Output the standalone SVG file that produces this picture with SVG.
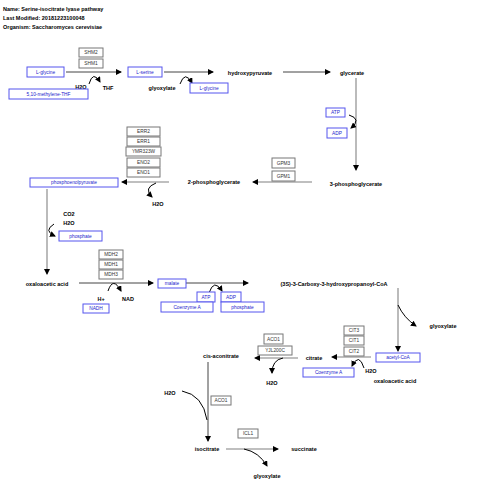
<svg xmlns="http://www.w3.org/2000/svg" width="480" height="496" viewBox="0 0 480 496">
<defs>
<marker id="ah" markerWidth="6" markerHeight="6" refX="5" refY="3" orient="auto" markerUnits="userSpaceOnUse">
<path d="M0,0 L6,3 L0,6 Z" fill="#000"/>
</marker>
<style>
.hdr{font-family:"Liberation Sans",Arial,sans-serif;font-size:5.5px;font-weight:bold;fill:#000}
.lbl{font-family:"Liberation Sans",Arial,sans-serif;font-size:5.5px;font-weight:bold;fill:#000;text-anchor:middle}
.gene rect{fill:#fff;stroke:#777;stroke-width:1}
.gene text{font-family:"Liberation Sans",Arial,sans-serif;font-size:4.8px;fill:#333;text-anchor:middle}
.met rect{fill:#fff;stroke:#5555ee;stroke-width:1}
.met text{font-family:"Liberation Sans",Arial,sans-serif;font-size:4.8px;fill:#2222cc;text-anchor:middle}
.dk{fill:none;stroke:#444;stroke-width:1}
.gr{fill:none;stroke:#aaa;stroke-width:1.6}
.cv{fill:none;stroke:#000;stroke-width:1}
</style>
</defs>
<rect width="480" height="496" fill="#fff"/>
<g id="header">
<text class="hdr" x="3" y="11">Name: Serine-isocitrate lyase pathway</text>
<text class="hdr" x="3" y="20">Last Modified: 20181223100048</text>
<text class="hdr" x="3" y="29">Organism: Saccharomyces cerevisiae</text>
</g>
<g id="connectors">
<path class="dk" d="M66,72 H121" marker-end="url(#ah)"/>
<path class="cv" d="M89,84 Q93,70 100,82" marker-end="url(#ah)"/>
<path class="dk" d="M164,72 H213" marker-end="url(#ah)"/>
<path class="cv" d="M180,84 Q185,70 192,83" marker-end="url(#ah)"/>
<path class="dk" d="M283,72 H330" marker-end="url(#ah)"/>
<path class="gr" d="M356,78 V170" marker-end="url(#ah)"/>
<path class="cv" d="M349,115 Q362,119 351,128" marker-end="url(#ah)"/>
<path class="gr" d="M312,182 H253" marker-end="url(#ah)"/>
<path class="gr" d="M169,182 H122" marker-end="url(#ah)"/>
<path class="cv" d="M156,183 Q143,188 152,197" marker-end="url(#ah)"/>
<path class="gr" d="M47,189 V274" marker-end="url(#ah)"/>
<path class="cv" d="M54,224 Q43,231 55,236" marker-end="url(#ah)"/>
<path class="dk" d="M79,283 H153" marker-end="url(#ah)"/>
<path class="cv" d="M108,291 Q113,276 121,291" marker-end="url(#ah)"/>
<path class="dk" d="M186,283 H248" marker-end="url(#ah)"/>
<path class="cv" d="M209,293 Q214,278 222,291" marker-end="url(#ah)"/>
<path class="gr" d="M398,288 V351" marker-end="url(#ah)"/>
<path class="cv" d="M398,305 Q404,318 416,326" marker-end="url(#ah)"/>
<path class="gr" d="M371,357 H332" marker-end="url(#ah)"/>
<path class="cv" d="M364,368 Q359,352 352,366" marker-end="url(#ah)"/>
<path class="gr" d="M298,358 H255" marker-end="url(#ah)"/>
<path class="cv" d="M283,358 Q272,360 272,373" marker-end="url(#ah)"/>
<path class="dk" d="M208,362 V441" marker-end="url(#ah)"/>
<path class="cv" d="M182,391 Q203,395 207,420"/>
<path class="gr" d="M226,449 H278" marker-end="url(#ah)"/>
<path class="cv" d="M244,449 Q259,452 267,466" marker-end="url(#ah)"/>
</g>
<g id="L-glycine-1" class="met"><rect x="27" y="67" width="37" height="10"/><text x="45.5" y="73.8">L-glycine</text></g>
<g id="SHM2" class="gene"><rect x="79" y="48" width="24" height="9"/><text x="91" y="54.3">SHM2</text></g>
<g id="SHM1" class="gene"><rect x="79" y="59" width="24" height="9"/><text x="91" y="65.3">SHM1</text></g>
<g id="H2O-1"><text class="lbl" x="81" y="89">H2O</text></g>
<g id="THF"><text class="lbl" x="108" y="90">THF</text></g>
<g id="methyleneTHF" class="met"><rect x="9" y="89" width="79" height="10"/><text x="48.5" y="95.8">5,10-methylene-THF</text></g>
<g id="L-serine" class="met"><rect x="128" y="67" width="34" height="10"/><text x="145" y="73.8">L-serine</text></g>
<g id="glyoxylate-1"><text class="lbl" x="162" y="90">glyoxylate</text></g>
<g id="L-glycine-2" class="met"><rect x="190" y="83" width="38" height="10"/><text x="209" y="89.8">L-glycine</text></g>
<g id="hydroxypyruvate"><text class="lbl" x="250" y="74.5">hydroxypyruvate</text></g>
<g id="glycerate"><text class="lbl" x="352" y="74.5">glycerate</text></g>
<g id="ATP-1" class="met"><rect x="326" y="108" width="19" height="9"/><text x="335.5" y="114.3">ATP</text></g>
<g id="ADP-1" class="met"><rect x="327" y="128" width="20" height="10"/><text x="337" y="134.8">ADP</text></g>
<g id="GPM3" class="gene"><rect x="272" y="158" width="23" height="10"/><text x="283.5" y="164.8">GPM3</text></g>
<g id="GPM1" class="gene"><rect x="272" y="171" width="23" height="10"/><text x="283.5" y="177.8">GPM1</text></g>
<g id="3-phosphoglycerate"><text class="lbl" x="356" y="186">3-phosphoglycerate</text></g>
<g id="2-phosphoglycerate"><text class="lbl" x="214" y="184">2-phosphoglycerate</text></g>
<g id="ERR2" class="gene"><rect x="127" y="127" width="33" height="9"/><text x="143.5" y="133.3">ERR2</text></g>
<g id="ERR1" class="gene"><rect x="127" y="137" width="33" height="9"/><text x="143.5" y="143.3">ERR1</text></g>
<g id="YMR323W" class="gene"><rect x="126" y="147" width="35" height="9"/><text x="143.5" y="153.3">YMR323W</text></g>
<g id="ENO2" class="gene"><rect x="127" y="158" width="33" height="9"/><text x="143.5" y="164.3">ENO2</text></g>
<g id="ENO1" class="gene"><rect x="127" y="168" width="33" height="9"/><text x="143.5" y="174.3">ENO1</text></g>
<g id="phosphoenolpyruvate" class="met"><rect x="30" y="178" width="88" height="9"/><text x="74" y="184.3">phosphoenolpyruvate</text></g>
<g id="H2O-2"><text class="lbl" x="158" y="206">H2O</text></g>
<g id="CO2"><text class="lbl" x="69" y="216">CO2</text></g>
<g id="H2O-3"><text class="lbl" x="69" y="225">H2O</text></g>
<g id="phosphate-1" class="met"><rect x="59" y="231" width="43" height="10"/><text x="80.5" y="237.8">phosphate</text></g>
<g id="oxaloacetic-acid-1"><text class="lbl" x="47" y="286">oxaloacetic acid</text></g>
<g id="MDH2" class="gene"><rect x="99" y="250" width="24" height="9"/><text x="111" y="256.3">MDH2</text></g>
<g id="MDH1" class="gene"><rect x="99" y="260" width="24" height="9"/><text x="111" y="266.3">MDH1</text></g>
<g id="MDH3" class="gene"><rect x="99" y="270" width="24" height="9"/><text x="111" y="276.3">MDH3</text></g>
<g id="H-plus"><text class="lbl" x="101" y="301">H+</text></g>
<g id="NAD"><text class="lbl" x="128" y="301">NAD</text></g>
<g id="NADH" class="met"><rect x="83" y="304" width="26" height="9"/><text x="96" y="310.3">NADH</text></g>
<g id="malate" class="met"><rect x="158" y="279" width="28" height="9"/><text x="172" y="285.3">malate</text></g>
<g id="ATP-2" class="met"><rect x="197" y="292" width="18" height="10"/><text x="206" y="298.8">ATP</text></g>
<g id="ADP-2" class="met"><rect x="221" y="292" width="20" height="10"/><text x="231" y="298.8">ADP</text></g>
<g id="CoA-1" class="met"><rect x="161" y="302" width="52" height="10"/><text x="187" y="308.8">Coenzyme A</text></g>
<g id="phosphate-2" class="met"><rect x="221" y="302" width="43" height="10"/><text x="242.5" y="308.8">phosphate</text></g>
<g id="carboxy-CoA"><text class="lbl" x="334" y="286">(3S)-3-Carboxy-3-hydroxypropanoyl-CoA</text></g>
<g id="glyoxylate-2"><text class="lbl" x="443" y="328">glyoxylate</text></g>
<g id="CIT3" class="gene"><rect x="344" y="326" width="20" height="9"/><text x="354" y="332.3">CIT3</text></g>
<g id="CIT1" class="gene"><rect x="344" y="336" width="20" height="9"/><text x="354" y="342.3">CIT1</text></g>
<g id="CIT2" class="gene"><rect x="344" y="347" width="20" height="9"/><text x="354" y="353.3">CIT2</text></g>
<g id="acetyl-CoA" class="met"><rect x="376" y="353" width="44" height="9"/><text x="398" y="359.3">acetyl-CoA</text></g>
<g id="citrate"><text class="lbl" x="314" y="360">citrate</text></g>
<g id="CoA-2" class="met"><rect x="303" y="368" width="51" height="9"/><text x="328.5" y="374.3">Coenzyme A</text></g>
<g id="H2O-4"><text class="lbl" x="371" y="373">H2O</text></g>
<g id="oxaloacetic-acid-2"><text class="lbl" x="395" y="383">oxaloacetic acid</text></g>
<g id="ACO1-1" class="gene"><rect x="264" y="334" width="19" height="10"/><text x="273.5" y="340.8">ACO1</text></g>
<g id="YJL200C" class="gene"><rect x="258" y="346" width="34" height="9"/><text x="275" y="352.3">YJL200C</text></g>
<g id="cis-aconitrate"><text class="lbl" x="221" y="358">cis-aconitrate</text></g>
<g id="H2O-5"><text class="lbl" x="272" y="385">H2O</text></g>
<g id="H2O-6"><text class="lbl" x="170" y="395">H2O</text></g>
<g id="ACO1-2" class="gene"><rect x="211" y="396" width="20" height="9"/><text x="221" y="402.3">ACO1</text></g>
<g id="ICL1" class="gene"><rect x="238" y="429" width="20" height="9"/><text x="248" y="435.3">ICL1</text></g>
<g id="isocitrate"><text class="lbl" x="207" y="451">isocitrate</text></g>
<g id="succinate"><text class="lbl" x="304" y="451">succinate</text></g>
<g id="glyoxylate-3"><text class="lbl" x="267" y="478">glyoxylate</text></g>
</svg>
